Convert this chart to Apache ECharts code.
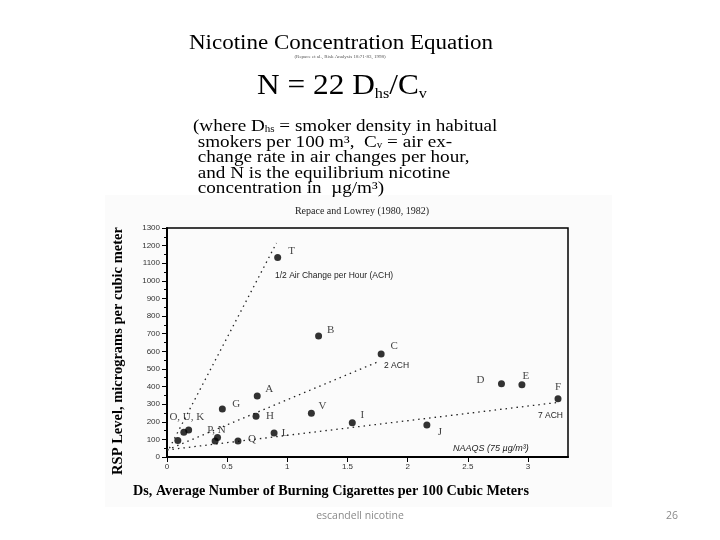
<!DOCTYPE html>
<html>
<head>
<meta charset="utf-8">
<script src="https://cdn.jsdelivr.net/npm/echarts@6/dist/echarts.min.js"></script>
<style>
  html, body { margin: 0; padding: 0; background: #fff; }
  #main { width: 720px; height: 540px; }
</style>
</head>
<body>
<div id="main"></div>
<script>
// 各测点：Ds（每100立方米燃烧香烟数）与 RSP 浓度
const ptNames = ['T', 'B', 'C', 'A', 'G', 'H', 'V', 'I', 'J', 'D', 'E', 'F', 'L', 'Q', 'P', 'N', 'O', 'U', 'K']
const ptDs = [0.92, 1.26, 1.78, 0.75, 0.46, 0.74, 1.2, 1.54, 2.16, 2.78, 2.95, 3.25, 0.89, 0.59, 0.42, 0.4, 0.09, 0.14, 0.18]
const ptRsp = [1133, 687, 585, 346, 272, 231, 248, 195, 182, 416, 410, 331, 136, 91, 110, 91, 93, 140, 153]

// 三条换气率趋势线（端点）
const halfAchDs = [0.02, 0.91]
const halfAchRsp = [50, 1215]
const twoAchDs = [0.0, 1.77]
const twoAchRsp = [40, 545]
const sevenAchDs = [0.0, 3.25]
const sevenAchRsp = [40, 310]

// 坐标轴刻度
const yTicks = { min: 0, max: 1300, step: 100 }
const xTicks = { min: 0, max: 3.333, step: 0.5 }

// 点旁字母（合并标签挂在其中一个点上）
const ptLabels = { T: 'T', B: 'B', C: 'C', A: 'A', G: 'G', H: 'H', V: 'V', I: 'I', J: 'J', D: 'D', E: 'E', F: 'F', L: 'L', Q: 'Q', P: 'P, N', U: 'O, U, K' }
const labelOffsets = {
  T: [14, -6], B: [12, -6], C: [13, -8], A: [12, -7], G: [14, -5], H: [14, 0], V: [11, -7],
  I: [10, -8], J: [13, 7], D: [-21, -4], E: [4, -9], F: [0, -12], L: [11, 0], Q: [14, -2],
  P: [-1, -8], U: [3, -15]
}

const serif = '"Liberation Serif", "DejaVu Serif", serif'
const sans = '"Liberation Sans", Arial, sans-serif'

const chart = echarts.init(document.getElementById('main'), null, { renderer: 'canvas' })

const pointData = ptNames.map((name, i) => {
  const item = { name: name, value: [ptDs[i], ptRsp[i]] }
  if (ptLabels[name]) {
    item.label = {
      show: true,
      formatter: ptLabels[name],
      position: 'inside',
      offset: labelOffsets[name],
      color: '#111',
      fontFamily: serif,
      fontSize: 11
    }
  } else {
    item.label = { show: false }
  }
  return item
})

const trend = (xs, ys) => xs.map((x, i) => [x, ys[i]])
const trendStyle = { color: '#222', width: 1.3, type: [1.5, 4] }

const option = {
  animation: false,
  backgroundColor: '#ffffff',
  grid: {
    left: 167,
    right: 152,
    top: 228,
    bottom: 83,
    containLabel: false,
    outerBoundsMode: 'none',
    show: true,
    borderColor: '#000',
    borderWidth: 1.5,
    backgroundColor: 'transparent'
  },
  xAxis: {
    type: 'value',
    min: xTicks.min,
    max: xTicks.max,
    interval: xTicks.step,
    axisLine: { lineStyle: { color: '#000', width: 2 } },
    axisTick: { show: true, length: 5, lineStyle: { color: '#000' } },
    axisLabel: {
      fontFamily: sans, fontSize: 8, color: '#333', margin: 6,
      formatter: (v) => (Math.abs(v / xTicks.step - Math.round(v / xTicks.step)) < 1e-6 ? String(v) : ''),
      showMaxLabel: false
    },
    splitLine: { show: false }
  },
  yAxis: {
    type: 'value',
    min: yTicks.min,
    max: yTicks.max,
    interval: yTicks.step,
    axisLine: { show: true, lineStyle: { color: '#000', width: 2 } },
    axisTick: { show: true, length: 5, lineStyle: { color: '#000' } },
    minorTick: { show: true, splitNumber: 2, length: 3, lineStyle: { color: '#000' } },
    axisLabel: { fontFamily: sans, fontSize: 8, color: '#333', margin: 7, formatter: (v) => String(v) },
    splitLine: { show: false }
  },
  series: [
    {
      type: 'line', data: trend(halfAchDs, halfAchRsp), symbol: 'none',
      lineStyle: trendStyle, silent: true, z: 1
    },
    {
      type: 'line', data: trend(twoAchDs, twoAchRsp), symbol: 'none',
      lineStyle: trendStyle, silent: true, z: 1
    },
    {
      type: 'line', data: trend(sevenAchDs, sevenAchRsp), symbol: 'none',
      lineStyle: trendStyle, silent: true, z: 1
    },
    {
      type: 'scatter',
      data: pointData,
      symbol: 'circle',
      symbolSize: 7,
      itemStyle: { color: '#000' },
      z: 3
    }
  ],
  graphic: [
    // 图片底色
    {
      type: 'rect', z: -10, silent: true,
      shape: { x: 105, y: 195, width: 507, height: 312 },
      style: { fill: '#fbfbfb' }
    },
    // 上方公式部分
    {
      type: 'text', x: 341, y: 44, scaleX: 1.15, silent: true,
      style: {
        text: 'Nicotine Concentration Equation',
        fontFamily: serif, fontSize: 20, fill: '#000', align: 'center', verticalAlign: 'middle'
      }
    },
    {
      type: 'text', x: 340, y: 57, silent: true,
      style: {
        text: '(Repace et al., Risk Analysis 18:71-83, 1998)',
        fontFamily: serif, fontSize: 5, fill: '#555', align: 'center', verticalAlign: 'middle'
      }
    },
    {
      type: 'text', x: 342, y: 86, scaleX: 1.08, silent: true,
      style: {
        text: '{a|N = 22 D}{s|hs}{a|/C}{s|v}',
        align: 'center', verticalAlign: 'middle',
        rich: {
          a: { fontFamily: serif, fontSize: 29, lineHeight: 32, fill: '#000' },
          s: { fontFamily: serif, fontSize: 15, lineHeight: 13, verticalAlign: 'bottom', fill: '#000' }
        }
      }
    },
    {
      type: 'text', x: 193, y: 119, scaleX: 1.16, silent: true,
      style: {
        text: [
          '{a|(where D}{s|hs}{a| = smoker density in habitual}',
          '{a| smokers per 100 m³,  C}{s|v}{a| = air ex-}',
          '{a| change rate in air changes per hour,}',
          '{a| and N is the equilibrium nicotine}',
          '{a| concentration in  µg/m³)}'
        ].join('\n'),
        rich: {
          a: { fontFamily: serif, fontSize: 16.5, lineHeight: 15.5, fill: '#000' },
          s: { fontFamily: serif, fontSize: 9.5, lineHeight: 7, verticalAlign: 'bottom', fill: '#000' }
        }
      }
    },
    // 图表标题
    {
      type: 'text', x: 362, y: 211, silent: true,
      style: {
        text: 'Repace and Lowrey (1980, 1982)',
        fontFamily: serif, fontSize: 10, fill: '#222', align: 'center', verticalAlign: 'middle'
      }
    },
    // 坐标轴标题
    {
      type: 'text', x: 118, y: 351, rotation: Math.PI / 2, silent: true,
      style: {
        text: 'RSP Level, micrograms per cubic meter',
        fontFamily: serif, fontWeight: 'bold', fontSize: 14.5, fill: '#000', align: 'center', verticalAlign: 'middle'
      }
    },
    {
      type: 'text', x: 331, y: 491, silent: true,
      style: {
        text: 'Ds, Average Number of Burning Cigarettes per 100 Cubic Meters',
        fontFamily: serif, fontWeight: 'bold', fontSize: 14.2, fill: '#000', align: 'center', verticalAlign: 'middle'
      }
    },
    // 趋势线注释
    {
      type: 'text', x: 275, y: 276, silent: true,
      style: { text: '1/2 Air Change per Hour (ACH)', fontFamily: sans, fontSize: 8.5, fill: '#222', verticalAlign: 'middle' }
    },
    {
      type: 'text', x: 384, y: 366, silent: true,
      style: { text: '2 ACH', fontFamily: sans, fontSize: 8.5, fill: '#222', verticalAlign: 'middle' }
    },
    {
      type: 'text', x: 563, y: 416, silent: true,
      style: { text: '7 ACH', fontFamily: sans, fontSize: 8.5, fill: '#222', align: 'right', verticalAlign: 'middle' }
    },
    {
      type: 'text', x: 453, y: 448, silent: true,
      style: { text: 'NAAQS (75 µg/m³)', fontFamily: sans, fontStyle: 'italic', fontSize: 9, fill: '#222', verticalAlign: 'middle' }
    },
    // 页脚
    {
      type: 'text', x: 360, y: 516, silent: true,
      style: { text: 'escandell nicotine', fontFamily: '"Open Sans", sans-serif', fontSize: 10.5, fill: '#8a8a8a', align: 'center', verticalAlign: 'middle' }
    },
    {
      type: 'text', x: 672, y: 516, silent: true,
      style: { text: '26', fontFamily: '"Open Sans", sans-serif', fontSize: 10.5, fill: '#8a8a8a', align: 'center', verticalAlign: 'middle' }
    }
  ]
}

chart.setOption(option)
</script>
</body>
</html>
